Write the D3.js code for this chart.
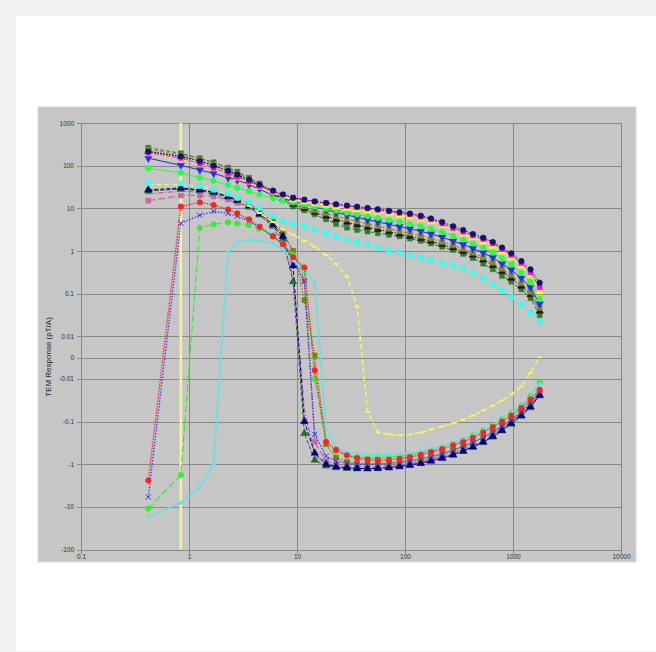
<!DOCTYPE html>
<html><head><meta charset="utf-8">
<script src="https://cdn.jsdelivr.net/npm/d3@7"></script>
<style>
html,body{margin:0;padding:0;background:#f1f2f4;width:656px;height:652px;overflow:hidden;}
#card{position:absolute;left:16px;top:16px;width:700px;height:635px;background:#fff;}
svg{position:absolute;left:0;top:0;}
</style></head><body><div id="card"></div><svg id="chart" width="656" height="652"></svg>
<script>
// ---------- data ----------
const times = [0.42,0.84,1.26,1.69,2.3,2.8,3.6,4.5,6.0,7.4,9.2,11.7,14.6,18.6,23,29,36,45,56,71,89,111,140,174,221,279,346,425,530,650,792,964,1194,1452,1766];

const navyA = [215,165,128,100,76,62,47,36,26,21,17.5,15.8,14.4,13.3,12.4,11.6,10.9,10.2,9.5,8.8,8.1,7.5,6.7,5.8,4.8,3.8,3.1,2.5,2.05,1.62,1.2,0.88,0.58,0.37,0.18];
const magentaA = [200,150,112,88,66,54,42,33,25,21,18,16,14.5,13.3,12.3,11.4,10.6,9.9,9.2,8.5,7.8,7.2,6.3,5.5,4.4,3.4,2.8,2.3,1.9,1.5,1.1,0.8,0.52,0.32,0.14];
const yellowA = [190,145,108,84,63,51,40,31,23.5,19.5,16,14.2,12.8,11.7,10.8,10,9.3,8.7,8.1,7.5,6.9,6.3,5.6,4.9,4.0,3.1,2.5,2.05,1.65,1.3,0.95,0.69,0.45,0.27,0.11];
const greenA = [87,68,52,44,35,30,25,21,17,15,14,12.5,11,9.8,8.8,7.9,7.2,6.5,5.9,5.3,4.8,4.3,3.8,3.3,2.75,2.25,1.85,1.5,1.2,0.92,0.67,0.48,0.31,0.19,0.075];
const blueA = [150,102,79,66,52,46,36,28,20,17,14.5,12.5,10.8,9.3,8.0,7.0,6.1,5.4,4.8,4.2,3.7,3.3,2.9,2.5,2.1,1.7,1.42,1.15,0.9,0.7,0.5,0.36,0.23,0.14,0.057];
const oliveA = [240,180,140,110,82,66,49,37,25,18,13.5,11,9,7.6,6.5,5.6,4.9,4.3,3.8,3.3,2.9,2.6,2.25,1.95,1.62,1.35,1.12,0.9,0.7,0.53,0.38,0.27,0.175,0.11,0.046];
const blackA = [215,165,128,100,75,60,45,34,23,17,12.5,10,8,6.6,5.5,4.7,4.1,3.6,3.2,2.85,2.5,2.2,1.95,1.7,1.42,1.18,0.98,0.8,0.62,0.46,0.33,0.23,0.15,0.095,0.039];
const darkGreenA = [263,195,150,120,90,72,52,38,24,16,11,9,7.2,5.5,4.3,3.5,3.1,2.85,2.6,2.4,2.2,1.95,1.72,1.5,1.25,1.05,0.85,0.68,0.5,0.37,0.26,0.19,0.125,0.078,0.031];
const cyanA = [39,38,33,27,22,18,14,10,6.5,5.0,4.4,3.9,3.2,2.6,2.2,1.85,1.6,1.4,1.2,1.05,0.92,0.8,0.7,0.62,0.53,0.46,0.4,0.32,0.23,0.17,0.12,0.083,0.055,0.037,0.022];

const redC = [-2.4,11,13.8,12,9.4,7.6,5.5,3.7,2.2,1.45,0.71,0.41,-0.006,-0.3,-0.46,-0.62,-0.72,-0.78,-0.8,-0.79,-0.75,-0.68,-0.6,-0.52,-0.44,-0.36,-0.3,-0.24,-0.18,-0.135,-0.1,-0.072,-0.048,-0.03,-0.018];
const blueC = [-5.9,4.5,6.9,8.5,7.6,6.5,5.0,3.6,2.2,1.4,0.6,0.19,-0.2,-0.65,-0.85,-0.95,-1.0,-1.02,-1.0,-0.97,-0.92,-0.85,-0.77,-0.68,-0.58,-0.48,-0.39,-0.31,-0.24,-0.18,-0.13,-0.093,-0.062,-0.038,-0.02];
const greenC = [-11,-1.8,3.5,4.2,4.7,4.4,4.0,3.3,2.3,1.5,0.8,0.35,-0.01,-0.3,-0.5,-0.62,-0.68,-0.7,-0.7,-0.69,-0.66,-0.6,-0.54,-0.47,-0.4,-0.33,-0.27,-0.21,-0.16,-0.12,-0.088,-0.063,-0.042,-0.025,-0.012];
const cyanC = [-17,-8,-3.5,-1,0.95,1.6,1.8,1.75,1.5,1.1,0.6,0.35,0.18,-0.15,-0.4,-0.52,-0.58,-0.6,-0.6,-0.6,-0.58,-0.55,-0.5,-0.44,-0.38,-0.32,-0.26,-0.21,-0.16,-0.12,-0.088,-0.063,-0.042,-0.026,-0.013];
const mauveB = [15,20,20,19,16,13.5,10.5,7.5,4.5,2.5,1.0,0.2,-0.3,-0.85,-1.0,-1.1,-1.12,-1.13,-1.12,-1.08,-1.02,-0.95,-0.86,-0.76,-0.65,-0.54,-0.44,-0.35,-0.27,-0.2,-0.145,-0.1,-0.066,-0.041,-0.022];
const oliveB = [25,29,27,24,20,16.5,12.5,8.5,5,2.8,1.0,0.07,0.001,-0.34,-0.7,-0.88,-0.95,-0.98,-0.97,-0.94,-0.89,-0.82,-0.74,-0.65,-0.56,-0.46,-0.38,-0.3,-0.23,-0.17,-0.125,-0.088,-0.058,-0.036,-0.02];
const navyB = [27,30,27,24,19,15.5,11.5,7.5,4.2,2.2,0.45,-0.1,-0.55,-1.0,-1.15,-1.2,-1.25,-1.27,-1.25,-1.2,-1.13,-1.05,-0.95,-0.84,-0.72,-0.6,-0.49,-0.39,-0.3,-0.22,-0.16,-0.11,-0.072,-0.045,-0.024];
const darkGreenB = [26,28,26,23,18.5,15,11,7,3.8,1.9,0.19,-0.19,-0.8,-1.1,-1.2,-1.25,-1.28,-1.28,-1.26,-1.21,-1.14,-1.06,-0.96,-0.85,-0.73,-0.61,-0.5,-0.4,-0.31,-0.23,-0.165,-0.115,-0.075,-0.047,-0.025];
const purpleB = [22,25,24,21.5,17.5,14.5,10.5,7,3.5,1.5,0.25,-0.05,-0.6,-1.05,-1.15,-1.2,-1.22,-1.22,-1.2,-1.15,-1.09,-1.01,-0.92,-0.81,-0.7,-0.58,-0.47,-0.37,-0.29,-0.21,-0.15,-0.105,-0.07,-0.043,-0.023];
const yellowD = [36,36,33,28,21,16,11.5,7.8,4.8,3.2,2.4,1.7,1.26,0.8,0.5,0.25,0.05,-0.06,-0.18,-0.2,-0.21,-0.2,-0.18,-0.155,-0.13,-0.11,-0.09,-0.072,-0.055,-0.042,-0.032,-0.023,-0.015,-0.0072,0.0002];

const vertTimes = [0.84, 0.84];
const vertValues = [1000, -100];

const yTickValues = [1000,100,10,1,0.1,0.01,0,-0.01,-0.1,-1,-10,-100];
const yTickLabels = ["1000","100","10","1","0.1","0.01","0","-0.01","-0.1","-1","-10","-100"];
const xTickValues = [0.1,1,10,100,1000,10000];
const xTickLabels = ["0.1","1","10","100","1000","10000"];
const yTitle = "TEM Response (pT/A)";

// ---------- styles ----------
const seriesDefs = [
  {v: mauveB, color:"#cc6699", sym:"square", dash:"7,3", w:1.2},
  {v: oliveB, color:"#808000", sym:"square", dash:"1.5,1.5", w:1.2},
  {v: darkGreenB, color:"#1f6f1f", sym:"triangle", dash:"4,2", w:1},
  {v: purpleB, color:"#cc33cc", sym:"none", dash:"5,2,1,2", w:1},
  {v: navyB, color:"#000080", sym:"triangle", dash:"4,2", w:1},
  {v: blueC, color:"#3333ff", sym:"x", dash:"1.5,1.5", w:1.2},
  {v: greenC, color:"#33ee33", sym:"circle", dash:"7,3", w:1.2},
  {v: cyanC, color:"#66e0e0", sym:"smallcircle", dash:null, w:1.6},
  {v: redC, color:"#ff2020", sym:"circle", dash:"1.2,1.2", w:1.4},
  {v: yellowD, color:"#f2f266", sym:"dash", dash:"5,3", w:1.6},
  {v: cyanA, color:"#33ffee", sym:"square", dash:"1.5,1.5", w:1.2},
  {v: darkGreenA, color:"#2e7d2e", sym:"square", dash:"4,2", w:1},
  {v: blackA, color:"#1a1a1a", sym:"triangle", dash:"1.5,1.5", w:1},
  {v: oliveA, color:"#8a8a1a", sym:"square", dash:"4,2", w:1},
  {v: blueA, color:"#2233dd", sym:"tridown", dash:null, w:1},
  {v: greenA, color:"#22ff44", sym:"circle", dash:null, w:1},
  {v: yellowA, color:"#ffff00", sym:"triangle", dash:"4,2", w:1},
  {v: magentaA, color:"#ff00ff", sym:"square", dash:"4,2", w:1},
  {v: navyA, color:"#14146e", sym:"circle", dash:"1.5,1.5", w:1}
];

// ---------- scales ----------
const X0 = 81, X1 = 621, Y0 = 123, Y1 = 549.5;
const xScale = d3.scaleLog().domain([0.1, 10000]).range([X0, X1]);
const tScale = d3.scaleLinear().domain([-4.5, 5.5]).range([Y1, Y0]);
function tr(v){
  const a = Math.abs(v);
  if (a >= 0.01) return Math.sign(v) * (Math.log10(a) + 2.5);
  return v * 50;
}
const yPos = v => tScale(tr(v));

const svg = d3.select("#chart");
svg.append("rect").attr("x",38).attr("y",107).attr("width",598).attr("height",455)
  .attr("fill","#c6c6c6").attr("stroke","#d6d6d6").attr("stroke-width",1);

// grid
const gridY = svg.append("g").attr("transform",`translate(${X0},0)`)
  .call(d3.axisLeft(tScale).tickValues(yTickValues.map(tr)).tickSize(-(X1-X0)).tickFormat(""));
const gridX = svg.append("g").attr("transform",`translate(0,${Y1})`)
  .call(d3.axisBottom(xScale).tickValues(xTickValues).tickSize(-(Y1-Y0)).tickFormat(""));
[gridY, gridX].forEach(g=>{
  g.select(".domain").remove();
  g.selectAll("line").attr("stroke","#888888").attr("stroke-width",1).attr("shape-rendering","crispEdges");
});

// axis labels
const axY = svg.append("g").attr("transform",`translate(${X0},0)`)
  .call(d3.axisLeft(tScale).tickValues(yTickValues.map(tr)).tickSize(4).tickPadding(3)
    .tickFormat((d,i)=>yTickLabels[i]));
const axX = svg.append("g").attr("transform",`translate(0,${Y1})`)
  .call(d3.axisBottom(xScale).tickValues(xTickValues).tickSize(4).tickPadding(1)
    .tickFormat((d,i)=>xTickLabels[i]));
[axY, axX].forEach(g=>{
  g.select(".domain").remove();
  g.selectAll("line").attr("stroke","#888888").attr("shape-rendering","crispEdges");
  g.selectAll("text").attr("fill","#333").style("font-family","'Liberation Sans',Arial,sans-serif").style("font-size","6.5px");
});

svg.append("text").attr("transform",`translate(51,357) rotate(-90)`)
  .attr("text-anchor","middle").attr("fill","#222")
  .style("font-family","'Liberation Sans',Arial,sans-serif").style("font-size","8px")
  .text(yTitle);

// clip
svg.append("clipPath").attr("id","clip").append("rect")
  .attr("x",X0).attr("y",Y0).attr("width",X1-X0).attr("height",Y1-Y0);
const plot = svg.append("g").attr("clip-path","url(#clip)");

const line = d3.line().x(d=>xScale(d[0])).y(d=>yPos(d[1]));

// vertical yellow line
plot.append("path").datum(vertTimes.map((t,i)=>[t, vertValues[i]]))
  .attr("d", line).attr("fill","none").attr("stroke","#f4f49a").attr("stroke-width",2.5);

const symMap = {
  square: d3.symbolSquare, circle: d3.symbolCircle, triangle: d3.symbolTriangle,
  tridown: d3.symbolTriangle, x: (d3.symbolTimes || d3.symbolCross), smallcircle: d3.symbolCircle
};

seriesDefs.forEach(s=>{
  const pts = times.map((t,i)=>[t, s.v[i]]);
  const g = plot.append("g");
  g.append("path").datum(pts).attr("d", line).attr("fill","none")
    .attr("stroke", s.color).attr("stroke-width", s.w)
    .attr("stroke-dasharray", s.dash);
  if (s.sym === "none") return;
  if (s.sym === "dash") {
    g.selectAll("line.m").data(pts).enter().append("line")
      .attr("x1",d=>xScale(d[0])-2.5).attr("x2",d=>xScale(d[0])+2.5)
      .attr("y1",d=>yPos(d[1])).attr("y2",d=>yPos(d[1]))
      .attr("stroke", s.color).attr("stroke-width",2);
    return;
  }
  const size = s.sym === "smallcircle" ? 9 : (s.sym === "x" ? 20 : 24);
  const sym = d3.symbol().type(symMap[s.sym]).size(size);
  g.selectAll("path.m").data(pts).enter().append("path")
    .attr("d", sym)
    .attr("transform", d=>`translate(${xScale(d[0])},${yPos(d[1])})` + (s.sym==="tridown"?" rotate(180)":""))
    .attr("fill", s.sym==="x" ? "none" : s.color)
    .attr("stroke", s.color).attr("stroke-width", s.sym==="x" ? 1 : 0.5);
});
</script>
</body></html>
